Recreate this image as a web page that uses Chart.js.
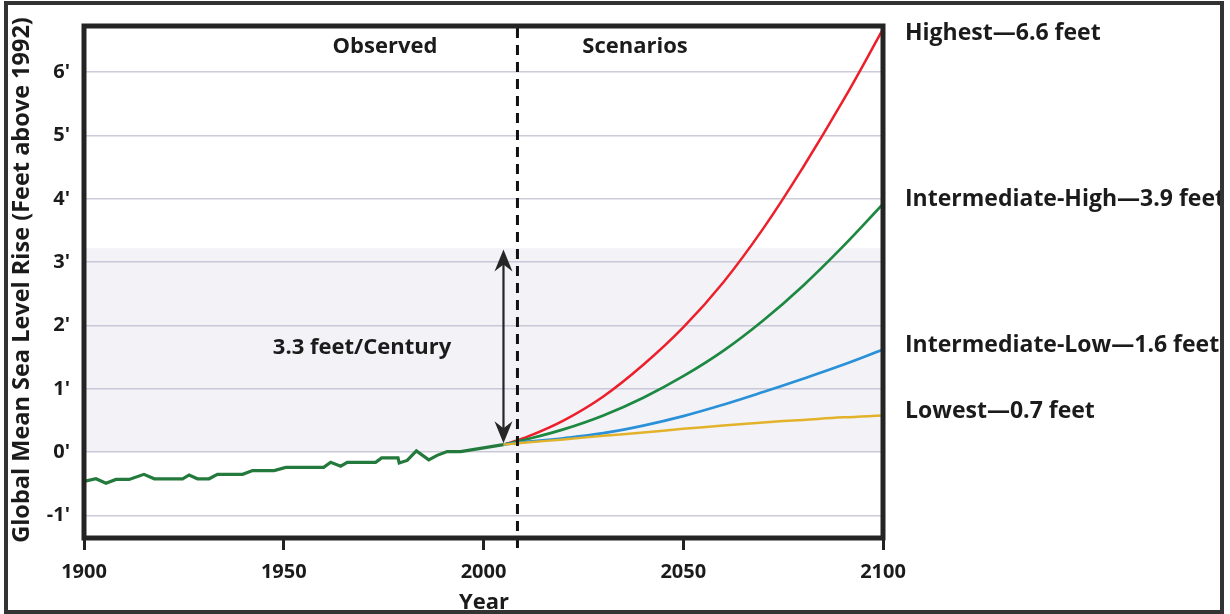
<!DOCTYPE html>
<html>
<head>
<meta charset="utf-8">
<script src="https://cdn.jsdelivr.net/npm/chart.js@4.4.1/dist/chart.umd.min.js"></script>
<style>
  html, body { margin: 0; padding: 0; background: #fff; }
  #wrap { width: 1230px; height: 614px; }
</style>
</head>
<body>
<div id="wrap"><canvas id="chart" width="1230" height="614"></canvas></div>
<script>
// axis ticks
const xTicks = [1900, 1950, 2000, 2050, 2100];
const yTicks = [-1, 0, 1, 2, 3, 4, 5, 6];

// observed record (feet above 1992)
const obsYears = [1900, 1903, 1905.5, 1908, 1911.3, 1915, 1917.6, 1924.7, 1926.3, 1928.4, 1931.3, 1933.4,
  1939.7, 1942.2, 1947.6, 1950.5, 1960, 1961.75, 1964.25, 1965.9, 1973, 1974.5, 1978.6, 1978.9,
  1980.9, 1983.2, 1986.3, 1988.4, 1990.9, 1994.25, 2005];
const obsLevel = [-0.46, -0.42, -0.49, -0.43, -0.43, -0.35, -0.42, -0.42, -0.36, -0.42, -0.42, -0.35,
  -0.35, -0.29, -0.29, -0.24, -0.24, -0.16, -0.22, -0.16, -0.16, -0.09, -0.09, -0.17,
  -0.13, 0.02, -0.12, -0.05, 0.01, 0.01, 0.12];

// scenarios
const scenarioYears = [2005, 2010, 2020, 2030, 2040, 2050, 2060, 2070, 2080, 2090, 2100];
const highest  = [0.12, 0.22, 0.50, 0.88, 1.38, 1.97, 2.68, 3.53, 4.50, 5.55, 6.68];
const intHigh  = [0.12, 0.19, 0.36, 0.58, 0.86, 1.20, 1.60, 2.08, 2.63, 3.25, 3.92];
const intLow   = [0.12, 0.16, 0.22, 0.30, 0.42, 0.57, 0.75, 0.95, 1.16, 1.38, 1.62];
const lowest   = [0.12, 0.15, 0.20, 0.26, 0.31, 0.37, 0.42, 0.47, 0.51, 0.55, 0.58];
const scenarioNames = ['Highest\u20146.6 feet', 'Intermediate-High\u20143.9 feet',
  'Intermediate-Low\u20141.6 feet', 'Lowest\u20140.7 feet'];

// shaded band, arrow and divider
const bandRange = [0, 3.22];
const arrowYear = 2005;
const arrowRange = [0.14, 3.2];
const dividerYear = 2008.5;

const FONT = '"Open Sans", "Noto Sans", sans-serif';
const INK = '#1b1b1b';

function pts(xs, ys) {
  return xs.map((x, i) => ({ x: x, y: ys[i] }));
}

function arrowHead(ctx, x, y, dir) {
  // tip at (x, y), dir = -1 points up, 1 points down
  const len = 22, half = 9, notch = 7;
  ctx.beginPath();
  ctx.moveTo(x, y);
  ctx.lineTo(x - half, y - dir * len);
  ctx.lineTo(x, y - dir * (len - notch));
  ctx.lineTo(x + half, y - dir * len);
  ctx.closePath();
  ctx.fill();
}

const decor = {
  id: 'decor',
  beforeDraw(chart) {
    const { ctx, chartArea: a, scales: { y } } = chart;
    ctx.save();
    ctx.fillStyle = '#fff';
    ctx.fillRect(0, 0, chart.width, chart.height);
    const t = y.getPixelForValue(bandRange[1]);
    const b = y.getPixelForValue(bandRange[0]);
    ctx.fillStyle = '#f2f2f7';
    ctx.fillRect(a.left, t, a.right - a.left, b - t);
    ctx.restore();
  },
  afterDatasetsDraw(chart) {
    const { ctx, chartArea: a, scales: { x, y } } = chart;
    ctx.save();

    // dashed divider
    const dx = x.getPixelForValue(dividerYear);
    ctx.strokeStyle = '#111';
    ctx.lineWidth = 3;
    ctx.setLineDash([10, 7]);
    ctx.beginPath();
    ctx.moveTo(dx, a.top + 2);
    ctx.lineTo(dx, a.bottom + 10);
    ctx.stroke();
    ctx.setLineDash([]);

    // double arrow
    const ax = x.getPixelForValue(arrowYear);
    const y0 = y.getPixelForValue(arrowRange[0]);
    const y1 = y.getPixelForValue(arrowRange[1]);
    ctx.strokeStyle = '#262626';
    ctx.fillStyle = '#262626';
    ctx.lineWidth = 2.2;
    ctx.beginPath();
    ctx.moveTo(ax, y1 + 10);
    ctx.lineTo(ax, y0 - 10);
    ctx.stroke();
    arrowHead(ctx, ax, y1, -1);
    arrowHead(ctx, ax, y0, 1);

    // plot frame
    ctx.strokeStyle = '#242424';
    ctx.lineWidth = 5;
    ctx.strokeRect(a.left, a.top, a.right - a.left, a.bottom - a.top);

    // texts
    ctx.fillStyle = INK;
    ctx.textBaseline = 'middle';
    ctx.textAlign = 'center';
    ctx.font = 'bold 22px ' + FONT;
    ctx.fillText('Observed', 385, 47);
    ctx.fillText('Scenarios', 635, 47);
    ctx.fillText('3.3 feet/Century', 362, 348);
    ctx.fillText('Year', 484, 603);

    // scenario labels next to the line ends
    ctx.textAlign = 'left';
    ctx.font = 'bold 23px ' + FONT;
    const ends = [highest, intHigh, intLow, lowest].map(s => s[s.length - 1]);
    scenarioNames.forEach((name, i) => {
      const ly = Math.max(a.top + 7, y.getPixelForValue(ends[i]) - 4);
      ctx.fillText(name, 905, ly);
    });

    ctx.save();
    ctx.translate(22, 280);
    ctx.rotate(-Math.PI / 2);
    ctx.textAlign = 'center';
    ctx.font = 'bold 23.5px ' + FONT;
    ctx.fillText('Global Mean Sea Level Rise (Feet above 1992)', 0, 0);
    ctx.restore();

    // outer frame (drawn last, it clips the long label)
    ctx.strokeStyle = '#333';
    ctx.lineWidth = 4;
    ctx.clearRect(1224, 0, 6, 614);
    ctx.strokeRect(6, 3, 1216, 609);

    ctx.restore();
  }
};

const line = (label, data, color, width, smooth) => ({
  label: label,
  data: data,
  borderColor: color,
  borderWidth: width,
  pointRadius: 0,
  fill: false,
  tension: smooth ? 0.4 : 0
});

new Chart(document.getElementById('chart'), {
  type: 'line',
  data: {
    datasets: [
      line('Lowest', pts(scenarioYears, lowest), '#e2b32a', 2.5, true),
      line('Intermediate-Low', pts(scenarioYears, intLow), '#2a90d8', 2.7, true),
      line('Intermediate-High', pts(scenarioYears, intHigh), '#1c8840', 2.7, true),
      line('Highest', pts(scenarioYears, highest), '#ec1f2b', 2.5, true),
      line('Observed', pts(obsYears, obsLevel), '#237a3c', 3.2, false)
    ]
  },
  options: {
    responsive: false,
    animation: false,
    devicePixelRatio: 1,
    layout: { padding: { top: 23, right: 1230 - 883, bottom: 0, left: 0 } },
    plugins: { legend: { display: false }, tooltip: { enabled: false } },
    scales: {
      x: {
        type: 'linear',
        min: 1900,
        max: 2100,
        afterFit: s => { s.height = 76; },
        afterBuildTicks: s => { s.ticks = xTicks.map(v => ({ value: v })); },
        border: { display: false },
        grid: { drawOnChartArea: false, drawTicks: true, tickLength: 12, color: '#222', lineWidth: 3 },
        ticks: {
          padding: 10,
          color: INK,
          font: { family: FONT, size: 20, weight: 'bold' },
          maxRotation: 0,
          callback: v => String(v)
        }
      },
      y: {
        min: -1.355,
        max: 6.73,
        afterFit: s => { s.width = 84; },
        afterBuildTicks: s => { s.ticks = yTicks.map(v => ({ value: v })); },
        border: { display: false },
        grid: { drawTicks: false, color: 'rgba(185,185,205,0.75)', lineWidth: 1.5 },
        ticks: {
          padding: 14,
          color: INK,
          font: { family: FONT, size: 20, weight: 'bold' },
          callback: v => v + "'"
        }
      }
    }
  },
  plugins: [decor]
});
</script>
</body>
</html>
